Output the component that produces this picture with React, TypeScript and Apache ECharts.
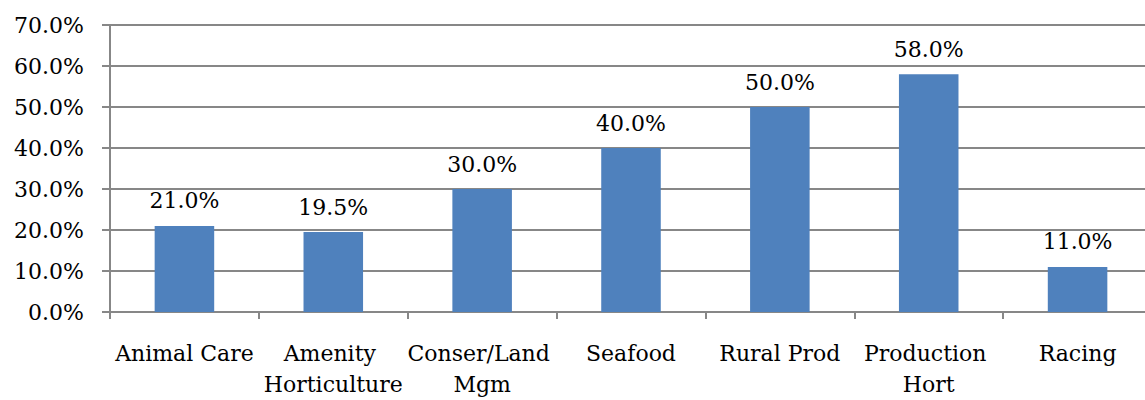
import React, { useEffect, useRef } from "react";
import * as echarts from "echarts";

const categories = [
  "Animal Care",
  "Amenity Horticulture",
  "Conser/Land Mgm",
  "Seafood",
  "Rural Prod",
  "Production Hort",
  "Racing",
];
const shares = [21.0, 19.5, 30.0, 40.0, 50.0, 58.0, 11.0];
const yTicks = { min: 0, max: 70, interval: 10 };

const FONT = "'DejaVu Serif', serif";
const GRAY = "#878787";

export default function App() {
  const ref = useRef<HTMLDivElement>(null);

  useEffect(() => {
    if (!ref.current) return;
    const chart = echarts.init(ref.current, null, { renderer: "svg" });
    chart.setOption({
      animation: false,
      textStyle: { fontFamily: FONT },
      grid: { left: 110, right: 0, top: 25, bottom: 82, containLabel: false },
      xAxis: {
        type: "category",
        data: categories,
        axisLine: { lineStyle: { color: GRAY, width: 2 } },
        axisTick: { show: true, length: 7, alignWithLabel: false, lineStyle: { color: GRAY, width: 2 } },
        axisLabel: {
          interval: 0,
          margin: 26,
          color: "#000",
          fontSize: 22,
          fontFamily: FONT,
          lineHeight: 31,
          width: 160,
          overflow: "break",
        },
      },
      yAxis: {
        type: "value",
        min: yTicks.min,
        max: yTicks.max,
        interval: yTicks.interval,
        axisLine: { show: true, lineStyle: { color: GRAY, width: 2 } },
        axisTick: { show: true, length: 8, lineStyle: { color: GRAY, width: 2 } },
        splitLine: { show: true, lineStyle: { color: GRAY, width: 2 } },
        axisLabel: {
          margin: 26,
          color: "#000",
          fontSize: 22,
          fontFamily: FONT,
          formatter: (v: number) => v.toFixed(1) + "%",
        },
      },
      series: [
        {
          type: "bar",
          data: shares,
          barCategoryGap: "60%",
          itemStyle: { color: "#4f81bd" },
          label: {
            show: true,
            position: "top",
            distance: 14,
            color: "#000",
            fontSize: 22,
            fontFamily: FONT,
            formatter: (p: any) => Number(p.value).toFixed(1) + "%",
          },
        },
      ],
    });
    return () => chart.dispose();
  }, []);

  // The plot area is wider than the window; the clipping box cuts its right end.
  return (
    <div
      style={{
        position: "fixed",
        left: 0,
        top: 0,
        width: 1145,
        height: 400,
        overflow: "hidden",
        background: "#fff",
      }}
    >
      <div ref={ref} style={{ width: 1160, height: 400 }} />
    </div>
  );
}
